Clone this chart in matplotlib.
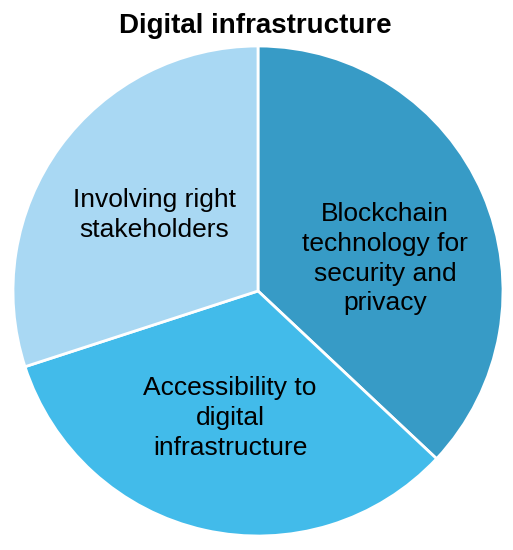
import matplotlib.pyplot as plt

plt.rcParams['font.family'] = ['Liberation Sans', 'DejaVu Sans']

# Data
labels = ['Blockchain\ntechnology for\nsecurity and\nprivacy',
          'Accessibility to\ndigital\ninfrastructure',
          'Involving right\nstakeholders']
shares = [37, 33, 30]
colors = ['#379BC6', '#42BBEA', '#A9D8F3']

# label placement inside each wedge (axes data coords, radius = 1)
label_pos = [(0.518, 0.131), (-0.114, -0.518), (-0.424, 0.31)]


def main():
    fig = plt.figure(figsize=(5.13, 5.5), dpi=100)
    # pie centre ~ (258, 291) px, radius ~ 245 px
    ax = fig.add_axes([13 / 513, 14 / 550, 490 / 513, 490 / 550])

    ax.pie(shares, colors=colors, startangle=90, counterclock=False,
           radius=1, wedgeprops=dict(edgecolor='white', linewidth=2))
    ax.set_xlim(-1, 1)
    ax.set_ylim(-1, 1)
    ax.set_aspect('auto')
    ax.axis('off')

    for lab, (x, y) in zip(labels, label_pos):
        ax.text(x, y, lab, ha='center', va='center', fontsize=19,
                linespacing=1.3, color='black')

    fig.text(255 / 513, 1 - 33 / 550, 'Digital infrastructure',
             ha='center', va='baseline', fontsize=20, fontweight='bold')

    fig.savefig('out.png', dpi=100)


if __name__ == "__main__":
    main()
